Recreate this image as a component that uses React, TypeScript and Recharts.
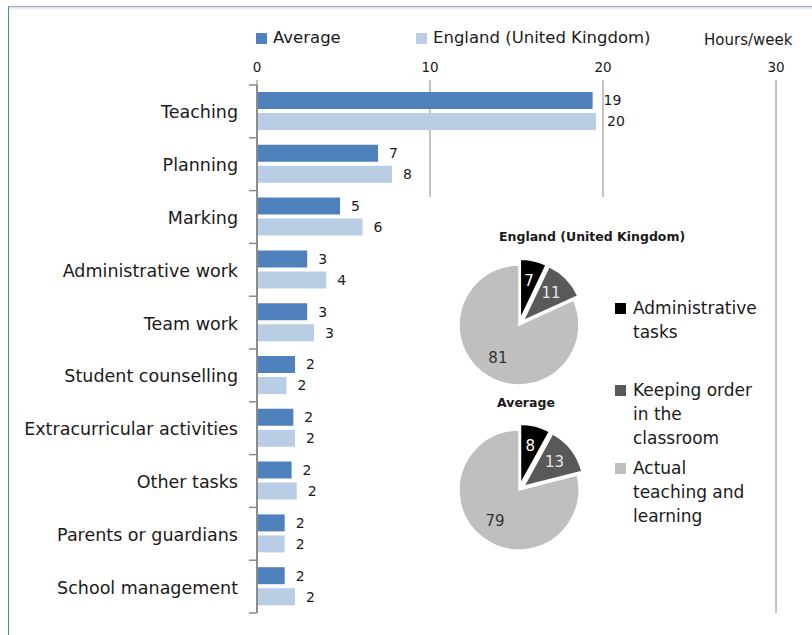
import React from "react";
import {
  BarChart,
  Bar,
  XAxis,
  YAxis,
  CartesianGrid,
  LabelList,
  PieChart,
  Pie,
  Cell,
} from "recharts";

const categories = [
  "Teaching",
  "Planning",
  "Marking",
  "Administrative work",
  "Team work",
  "Student counselling",
  "Extracurricular activities",
  "Other tasks",
  "Parents or guardians",
  "School management",
];
const averageHours = [19.4, 7.0, 4.8, 2.9, 2.9, 2.2, 2.1, 2.0, 1.6, 1.6];
const englandHours = [19.6, 7.8, 6.1, 4.0, 3.3, 1.7, 2.2, 2.3, 1.6, 2.2];
const hourTicks = [0, 10, 20, 30];

const pieSlices = [
  "Administrative tasks",
  "Keeping order in the classroom",
  "Actual teaching and learning",
];
const englandShares = [7, 11, 81];
const averageShares = [8, 13, 79];

const FONT = "'DejaVu Sans', sans-serif";
const AVG_COLOR = "#4f81bd";
const ENG_COLOR = "#b9cde5";
const SLICE_COLORS = ["#000000", "#595959", "#bfbfbf"];
const SLICE_LABEL_COLORS = ["#ffffff", "#e6e6e6", "#333333"];
const EXPLODE = [6, 6, 0];

const rows = categories.map((category, i) => ({
  category,
  average: averageHours[i],
  england: englandHours[i],
}));

const PLOT_TOP = 85;
const PLOT_BOTTOM = 613;
const BAND = (PLOT_BOTTOM - PLOT_TOP) / categories.length;

function CategoryTick(props: any) {
  const { x, y, payload, index } = props;
  return (
    <g>
      <text
        x={x - 11}
        y={y + 1}
        textAnchor="end"
        dominantBaseline="central"
        fontSize={17.5}
        fontFamily={FONT}
        fill="#1a1a1a"
      >
        {payload.value}
      </text>
      <line x1={x} x2={x + 8} y1={y - BAND / 2} y2={y - BAND / 2} stroke="#8c8c8c" strokeWidth={1.5} />
      {index === categories.length - 1 && (
        <line x1={x} x2={x + 8} y1={y + BAND / 2} y2={y + BAND / 2} stroke="#8c8c8c" strokeWidth={1.5} />
      )}
    </g>
  );
}

// one Pie per slice so that single slices can be pulled out of the pie
function explodedPie(shares: number[], cx: number, cy: number, id: string) {
  const total = shares.reduce((a, b) => a + b, 0);
  const data = pieSlices.map((name, i) => ({ name, value: shares[i] }));
  let acc = 0;
  return shares.map((v, k) => {
    const midFromTop = ((acc + v / 2) / total) * 2 * Math.PI;
    acc += v;
    const dx = EXPLODE[k] * Math.sin(midFromTop);
    const dy = -EXPLODE[k] * Math.cos(midFromTop);
    return (
      <Pie
        key={id + k}
        data={data}
        dataKey="value"
        cx={cx + dx}
        cy={cy + dy}
        outerRadius={60}
        startAngle={90}
        endAngle={-270}
        isAnimationActive={false}
        labelLine={false}
        label={(p: any) => {
          if (p.index !== k) return null;
          const a = (p.midAngle * Math.PI) / 180;
          const r = p.outerRadius * 0.65;
          return (
            <text
              x={p.cx + r * Math.cos(a)}
              y={p.cy - r * Math.sin(a)}
              textAnchor="middle"
              dominantBaseline="central"
              fontSize={15}
              fontFamily={FONT}
              fill={SLICE_LABEL_COLORS[k]}
            >
              {p.value}
            </text>
          );
        }}
      >
        {data.map((_, i) => (
          <Cell
            key={i}
            fill={i === k ? SLICE_COLORS[i] : "none"}
            stroke={i === k ? "#ffffff" : "none"}
            strokeWidth={1.5}
          />
        ))}
      </Pie>
    );
  });
}

const legendLines = [["Administrative", "tasks"], ["Keeping order", "in the", "classroom"], ["Actual", "teaching and", "learning"]];
const legendTops = [296, 378, 456];

export default function App() {
  return (
    <div
      style={{
        position: "absolute",
        left: 0,
        top: 0,
        width: 812,
        height: 635,
        background: "#fff",
        fontFamily: FONT,
        color: "#1a1a1a",
        overflow: "hidden",
      }}
    >
      <div style={{ position: "absolute", left: 8, top: 6, width: 820, height: 640, borderLeft: "1px solid #4f81bd", borderTop: "1px solid #95b3d7" }} />
      <div style={{ position: "absolute", left: 9, top: 7, width: 810, height: 3, background: "linear-gradient(#d9d9d9, #ffffff)" }} />

      <div style={{ position: "absolute", left: 0, top: 0 }}>
        <BarChart
          width={812}
          height={635}
          data={rows}
          layout="vertical"
          margin={{ top: 55, right: 36, bottom: 22, left: 0 }}
          barGap={4}
        >
          <CartesianGrid horizontal={false} stroke="#868686" />
          <XAxis
            type="number"
            orientation="top"
            domain={[0, 30]}
            ticks={hourTicks}
            height={30}
            axisLine={false}
            tickLine={{ stroke: "#868686" }}
            tickSize={5}
            tickMargin={8}
            tick={{ fontSize: 13.5, fill: "#1a1a1a", fontFamily: FONT }}
          />
          <YAxis
            type="category"
            dataKey="category"
            width={257}
            axisLine={{ stroke: "#8c8c8c", strokeWidth: 2 }}
            tickLine={false}
            tick={<CategoryTick />}
            interval={0}
          />
          <Bar dataKey="average" fill={AVG_COLOR} barSize={17} isAnimationActive={false}>
            <LabelList
              dataKey="average"
              position="right"
              offset={11}
              formatter={(v: any) => Math.round(Number(v))}
              style={{ fontSize: 14, fill: "#1a1a1a", fontFamily: FONT }}
            />
          </Bar>
          <Bar dataKey="england" fill={ENG_COLOR} barSize={17} isAnimationActive={false}>
            <LabelList
              dataKey="england"
              position="right"
              offset={11}
              formatter={(v: any) => Math.round(Number(v))}
              style={{ fontSize: 14, fill: "#1a1a1a", fontFamily: FONT }}
            />
          </Bar>
        </BarChart>
      </div>

      {/* series legend */}
      <div style={{ position: "absolute", left: 256, top: 33, width: 11, height: 11, background: AVG_COLOR }} />
      <div style={{ position: "absolute", left: 273, top: 28, fontSize: 16.5, lineHeight: "20px" }}>Average</div>
      <div style={{ position: "absolute", left: 416, top: 33, width: 11, height: 11, background: ENG_COLOR }} />
      <div style={{ position: "absolute", left: 433, top: 28, fontSize: 16.5, lineHeight: "20px" }}>England (United Kingdom)</div>
      <div style={{ position: "absolute", left: 704, top: 31, fontSize: 15, lineHeight: "18px" }}>Hours/week</div>

      {/* pie panel */}
      <div style={{ position: "absolute", left: 420, top: 197, width: 350, height: 425, background: "#fff" }}>
        <PieChart width={200} height={420}>
          {explodedPie(englandShares, 94, 123, "eng")}
          {explodedPie(averageShares, 94, 288, "avg")}
        </PieChart>
      </div>
      <div style={{ position: "absolute", left: 499, top: 229, fontSize: 12.5, fontWeight: "bold", whiteSpace: "nowrap" }}>
        England (United Kingdom)
      </div>
      <div style={{ position: "absolute", left: 497, top: 395, fontSize: 12.5, fontWeight: "bold" }}>Average</div>

      {pieSlices.map((name, i) => (
        <div key={name} style={{ position: "absolute", left: 615, top: legendTops[i] }}>
          <div style={{ position: "absolute", left: 0, top: 7, width: 11, height: 11, background: SLICE_COLORS[i] }} />
          <div style={{ position: "absolute", left: 18, top: 0, fontSize: 17, lineHeight: "24px", whiteSpace: "nowrap" }}>
            {legendLines[i].map((l) => (
              <div key={l}>{l}</div>
            ))}
          </div>
        </div>
      ))}
    </div>
  );
}
